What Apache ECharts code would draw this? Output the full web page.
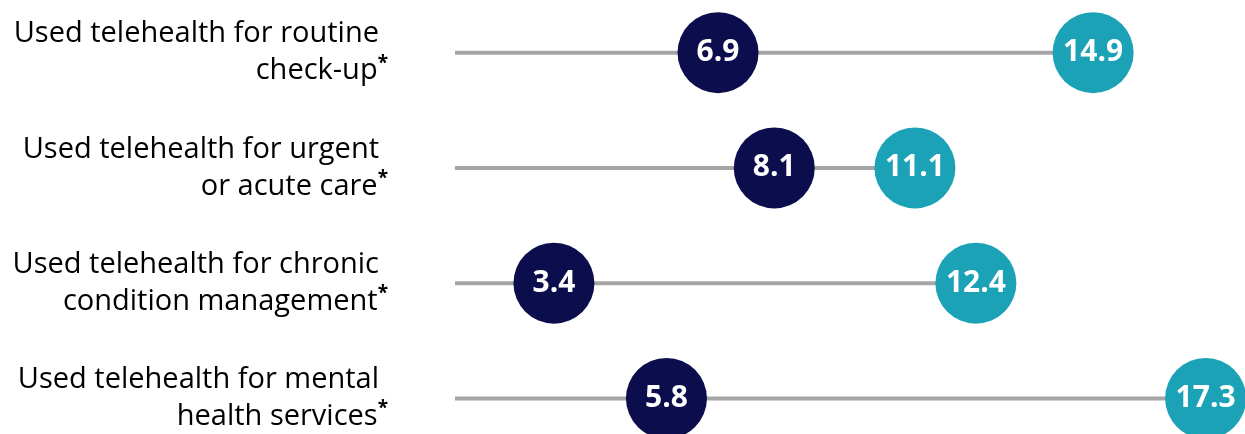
<!DOCTYPE html>
<html>
<head>
<meta charset="utf-8">
<script src="https://cdn.jsdelivr.net/npm/echarts@6/dist/echarts.min.js"></script>
<style>
  html, body { margin: 0; padding: 0; background: #fff; }
  #chart { width: 1245px; height: 434px; }
</style>
</head>
<body>
<div id="chart"></div>
<script>
// Telehealth use by purpose: two groups compared on each row
const categories = [
  'Used telehealth for routine\ncheck-up*',
  'Used telehealth for urgent\nor acute care*',
  'Used telehealth for chronic\ncondition management*',
  'Used telehealth for mental\nhealth services*'
];
const groupA = [6.9, 8.1, 3.4, 5.8];
const groupB = [14.9, 11.1, 12.4, 17.3];
const rowMax = categories.map((_, i) => Math.max(groupA[i], groupB[i]));

const NAVY = '#0c0d4c';
const TEAL = '#1ba2b7';
const FONT = '"Open Sans", "Noto Sans", sans-serif';

function formatCategory(text) {
  const lines = text.split('\n');
  return lines.map(line => {
    const star = line.endsWith('*');
    const body = star ? line.slice(0, -1) : line;
    return '{a|' + body + '}' + (star ? '{s|*}' : '{p|\u00a0}');
  }).join('\n');
}

const chart = echarts.init(document.getElementById('chart'), null, { renderer: 'canvas' });

const valueLabel = {
  show: true,
  position: 'inside',
  color: '#ffffff',
  fontFamily: FONT,
  fontWeight: 'bold',
  fontSize: 30,
  formatter: p => p.value[0].toFixed(1)
};

chart.setOption({
  animation: false,
  grid: { left: 455, width: 790, top: -5, height: 461, outerBoundsMode: 'none' },
  xAxis: {
    type: 'value',
    min: 1.29,
    max: 18.14,
    show: false
  },
  yAxis: {
    type: 'category',
    inverse: true,
    data: categories,
    axisLine: { show: false },
    axisTick: { show: false },
    splitLine: { show: false },
    axisLabel: {
      margin: 67,
      align: 'right',
      formatter: formatCategory,
      rich: {
        a: { fontFamily: FONT, fontSize: 29, color: '#000000', lineHeight: 37, align: 'right' },
        s: { fontFamily: FONT, fontSize: 19, fontWeight: 'bold', color: '#000000', lineHeight: 20, verticalAlign: 'top', padding: [1, 0, 0, 0] },
        p: { fontFamily: FONT, fontSize: 29, lineHeight: 37, width: 9 }
      }
    }
  },
  series: [
    {
      // connector from the axis start to the larger value of each row
      type: 'bar',
      data: rowMax,
      barWidth: 4,
      clip: true,
      itemStyle: { color: '#a6a6a6' },
      silent: true,
      z: 1
    },
    {
      type: 'scatter',
      data: groupA.map((v, i) => [v, i]),
      symbol: 'circle',
      symbolSize: 81,
      itemStyle: { color: NAVY, opacity: 1 },
      label: valueLabel,
      z: 3
    },
    {
      type: 'scatter',
      data: groupB.map((v, i) => [v, i]),
      symbol: 'circle',
      symbolSize: 81,
      itemStyle: { color: TEAL, opacity: 1 },
      label: valueLabel,
      z: 3
    }
  ]
});
</script>
</body>
</html>
